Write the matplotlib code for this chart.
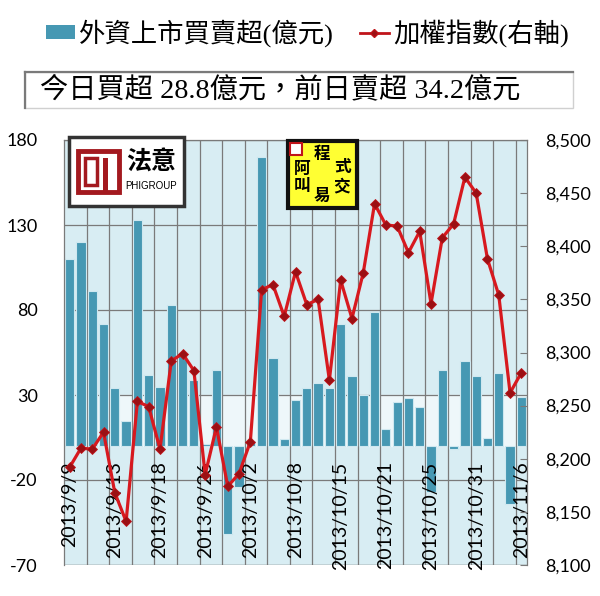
import matplotlib
matplotlib.use('Agg')
import matplotlib.pyplot as plt
from matplotlib.patches import Rectangle, Patch
from matplotlib.lines import Line2D
from matplotlib.ticker import FuncFormatter

# trading days (every 4th one gets a label)
dates = ['2013/9/9', '2013/9/10', '2013/9/11', '2013/9/12', '2013/9/13', '2013/9/14',
         '2013/9/16', '2013/9/17', '2013/9/18', '2013/9/23', '2013/9/24', '2013/9/25',
         '2013/9/26', '2013/9/27', '2013/9/30', '2013/10/1', '2013/10/2', '2013/10/3',
         '2013/10/4', '2013/10/7', '2013/10/8', '2013/10/9', '2013/10/11', '2013/10/14',
         '2013/10/15', '2013/10/16', '2013/10/17', '2013/10/18', '2013/10/21', '2013/10/22',
         '2013/10/23', '2013/10/24', '2013/10/25', '2013/10/28', '2013/10/29', '2013/10/30',
         '2013/10/31', '2013/11/1', '2013/11/4', '2013/11/5', '2013/11/6']

# foreign net buy/sell (100M NTD)
foreign = [110, 120, 91, 72, 34, 15, 133, 42, 35, 83, 53, 39, 1, 45, -52, -24, 3,
           170, 52, 4, 27, 34, 37, 34, 72, 41, 30, 79, 10, 26, 28, 23, -27, 45, -2,
           50, 41, 5, 43, -34.2, 28.8]

# TAIEX (right axis)
taiex = [8192, 8210, 8209, 8225, 8168, 8141, 8254, 8249, 8209, 8292, 8299, 8283,
         8185, 8230, 8174, 8186, 8216, 8359, 8364, 8334, 8376, 8345, 8350, 8274,
         8368, 8332, 8375, 8440, 8420, 8419, 8394, 8414, 8346, 8408, 8421, 8465,
         8450, 8388, 8354, 8262, 8281]

left_ticks = [-70, -20, 30, 80, 130, 180]
right_ticks = [8100, 8150, 8200, 8250, 8300, 8350, 8400, 8450, 8500]

plt.rcParams['font.family'] = ['Lato', 'DejaVu Sans']
plt.rcParams['axes.unicode_minus'] = False
cjk = ['Liberation Serif', 'Noto Sans CJK TC', 'DejaVu Sans']
BAR = '#4698b3'
RED = '#d7191f'
GRID = '#7a7a7a'
W, H = 600, 596

fig = plt.figure(figsize=(6, 5.96), dpi=100)
fig.patch.set_facecolor('white')

def fx(px):
    return px / W

def fy(py):
    return 1 - py / H

ax = fig.add_axes([fx(64), fy(565), (527 - 64) / W, (565 - 140) / H])
ax.set_facecolor('#d8edf3')
x = list(range(len(dates)))

ax.axhspan(0, 30, color='#eef7fa', zorder=0)
ax.bar(x, foreign, width=0.82, color=BAR, edgecolor='#cfe8f0', linewidth=0.8, zorder=2)

ax.set_xlim(-0.5, len(dates) - 0.5)
ax.set_ylim(-70, 180)
ax.set_yticks(left_ticks)
ax.set_xticks(x[::4])
ax.set_xticklabels(dates[::4])
ax.tick_params(axis='x', length=0, pad=11, labelsize=14, labelrotation=90)
ax.tick_params(axis='y', length=0, pad=19, labelsize=13)

# grid behind the bars, date labels on top of them
ax.grid(True, axis='y', color=GRID, linewidth=0.9)
ax.set_axisbelow(True)
ax.xaxis.set_zorder(2.5)
for i in range(1, len(dates) - 1, 2):
    ax.axvline(i + 0.5, color=GRID, linewidth=0.9, zorder=1)

ax.spines['bottom'].set_position(('data', 0))
ax.spines['bottom'].set_visible(False)
for side in ['left', 'right', 'top']:
    ax.spines[side].set_color(GRID)
    ax.spines[side].set_linewidth(0.9)
ax.axhline(-70, color=GRID, linewidth=0.9, zorder=1)

ax2 = ax.twinx()
ax2.plot(x, taiex, color=RED, linewidth=2.3, marker='D', markersize=5,
         markerfacecolor='#9b1014', markeredgecolor='#c0141a', markeredgewidth=0.6,
         zorder=3)
ax2.set_ylim(8100, 8500)
ax2.set_yticks(right_ticks)
ax2.yaxis.set_major_formatter(FuncFormatter(lambda v, p: f'{v:,.0f}'))
ax2.tick_params(axis='y', direction='in', length=5, color=GRID, pad=13, labelsize=13)
for side in ax2.spines:
    ax2.spines[side].set_visible(False)

# legend
handles = [Patch(facecolor=BAR, edgecolor='none'),
           Line2D([0], [0], color='#c0141a', linewidth=2, marker='D', markersize=4,
                  markerfacecolor='#9b1014')]
fig.legend(handles, ['外資上市買賣超(億元)', '加權指數(右軸)'], loc='center',
           bbox_to_anchor=(0.512, fy(33)), ncol=2, frameon=False,
           prop={'family': cjk, 'size': 19}, handlelength=1.1, handleheight=0.45,
           handletextpad=0.15, columnspacing=1.0)

# summary box
fig.add_artist(Rectangle((fx(25), fy(108)), (573 - 25) / W, (108 - 72) / H,
                         transform=fig.transFigure, facecolor='white',
                         edgecolor='#d0d0d0', linewidth=1))
fig.add_artist(Line2D([fx(25), fx(573)], [fy(72), fy(72)], transform=fig.transFigure,
                      color=GRID, linewidth=1.6))
fig.add_artist(Line2D([fx(25), fx(25)], [fy(72), fy(108)], transform=fig.transFigure,
                      color=GRID, linewidth=1.6))
fig.text(fx(40), fy(90), '今日買超 28.8億元，前日賣超 34.2億元', family=cjk,
         fontsize=20.3, va='center', ha='left')

# 法意 PHIGROUP logo
fig.add_artist(Rectangle((fx(69), fy(206)), 115 / W, 69 / H, transform=fig.transFigure,
                         facecolor='white', edgecolor='#333333', linewidth=2.5, zorder=5))
fig.add_artist(Rectangle((fx(78), fy(192)), 41 / W, 41 / H, transform=fig.transFigure,
                         facecolor='none', edgecolor='#a3191f', linewidth=3.5, zorder=6))
fig.add_artist(Rectangle((fx(85), fy(185)), 12 / W, 27 / H, transform=fig.transFigure,
                         facecolor='none', edgecolor='#a3191f', linewidth=2.5, zorder=6))
fig.add_artist(Rectangle((fx(103), fy(192)), 5 / W, 34 / H, transform=fig.transFigure,
                         facecolor='#a3191f', edgecolor='none', zorder=6))
fig.text(fx(151), fy(163), '法意', family=cjk, fontsize=18, fontweight='bold',
         ha='center', va='center', zorder=7)
fig.text(fx(151), fy(186), 'PHIGROUP', family='Liberation Sans', fontsize=7,
         ha='center', va='center', zorder=7)

# 阿叫程式交易 logo
fig.add_artist(Rectangle((fx(288), fy(208)), 69 / W, 67 / H, transform=fig.transFigure,
                         facecolor='#ffff33', edgecolor='#111111', linewidth=3, zorder=5))
fig.add_artist(Rectangle((fx(290), fy(155)), 12 / W, 12 / H, transform=fig.transFigure,
                         facecolor='white', edgecolor='#c0141a', linewidth=1.5, zorder=6))
for ch, cx, cy in [('阿', 302, 170), ('叫', 302, 187), ('程', 322, 155),
                   ('易', 322, 197), ('式', 342, 168), ('交', 342, 187)]:
    fig.text(fx(cx), fy(cy), ch, family=cjk, fontsize=12, fontweight='bold',
             ha='center', va='center', zorder=7)

fig.savefig('out.png', dpi=100)
